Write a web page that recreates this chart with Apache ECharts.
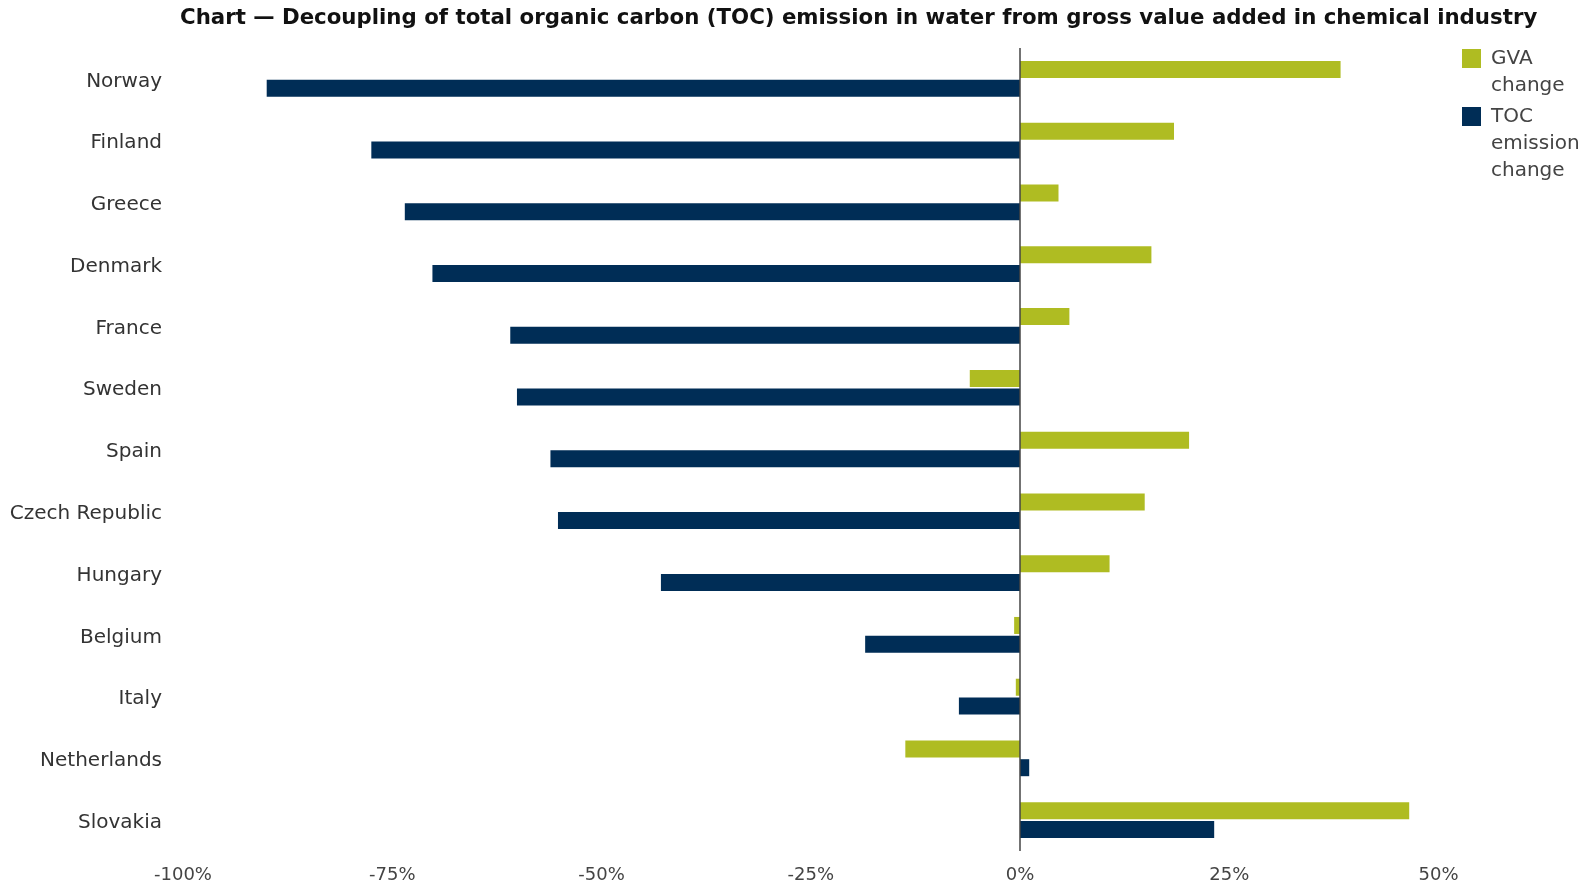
<!DOCTYPE html>
<html>
<head>
<meta charset="utf-8">
<title>Decoupling of TOC emission from GVA in chemical industry</title>
<script src="https://cdn.jsdelivr.net/npm/echarts@6/dist/echarts.min.js"></script>
<style>
  html, body { margin: 0; padding: 0; background: #ffffff; }
  #chart { width: 1580px; height: 884px; }
</style>
</head>
<body>
<div id="chart"></div>
<script>
// Countries, top to bottom
const countries = [
  'Norway', 'Finland', 'Greece', 'Denmark', 'France', 'Sweden', 'Spain',
  'Czech Republic', 'Hungary', 'Belgium', 'Italy', 'Netherlands', 'Slovakia'
];

// Change in gross value added, %
const gvaChange = [38.3, 18.4, 4.6, 15.7, 5.9, -6.0, 20.2, 14.9, 10.7, -0.7, -0.5, -13.7, 46.5];

// Change in total organic carbon emission in water, %
const tocChange = [-90.0, -77.5, -73.5, -70.2, -60.9, -60.1, -56.1, -55.2, -42.9, -18.5, -7.3, 1.1, 23.2];

// Value axis ticks, %
const xTicks = { min: -100, max: 50, step: 25 };

const seriesNames = ['GVA change', 'TOC emission change'];
const colors = ['#afbc22', '#002d56'];

const chart = echarts.init(document.getElementById('chart'), null, { renderer: 'canvas' });

// Legend text wraps over several lines; the leading empty lines keep the
// first line level with the colour box.
const legendText = {
  'GVA change': '\nGVA\nchange',
  'TOC emission change': '\n\nTOC\nemission\nchange'
};

chart.setOption({
  animation: false,
  backgroundColor: '#ffffff',
  color: colors,
  title: {
    text: 'Chart \u2014 Decoupling of total organic carbon (TOC) emission in water from gross value added in chemical industry',
    left: 180,
    top: 8,
    padding: 0,
    textStyle: {
      fontFamily: 'DejaVu Sans',
      fontWeight: 'bold',
      fontSize: 21.3,
      color: '#111111'
    }
  },
  legend: {
    orient: 'vertical',
    left: 1462,
    top: 18,
    padding: 0,
    itemGap: -50,
    itemWidth: 19,
    itemHeight: 19,
    icon: 'rect',
    selectedMode: false,
    formatter: name => legendText[name],
    textStyle: {
      fontFamily: 'DejaVu Sans',
      fontSize: 20,
      lineHeight: 27,
      color: '#444444',
      padding: [0, 0, 0, 5]
    },
    data: seriesNames
  },
  grid: {
    left: 183,
    right: 141.5,
    top: 48,
    bottom: 32,
    containLabel: false
  },
  xAxis: {
    type: 'value',
    min: xTicks.min,
    max: xTicks.max,
    interval: xTicks.step,
    axisLine: { show: false },
    axisTick: { show: false },
    splitLine: { show: false },
    axisLabel: {
      formatter: v => v + '%',
      fontFamily: 'DejaVu Sans',
      fontSize: 18,
      color: '#444444',
      margin: 15
    }
  },
  yAxis: {
    type: 'category',
    data: countries,
    inverse: true,
    axisLine: { show: false },
    axisTick: { show: false },
    axisLabel: {
      margin: 21,
      formatter: v => '{c|' + v + '}',
      rich: {
        c: {
          fontFamily: 'DejaVu Sans',
          fontSize: 20,
          color: '#333333',
          padding: [5, 0, 0, 0]
        }
      }
    }
  },
  series: [
    {
      name: seriesNames[0],
      type: 'bar',
      data: gvaChange,
      barWidth: 17,
      barGap: '10%',
      itemStyle: { color: colors[0] },
      markLine: {
        // zero line of the value axis
        silent: true,
        symbol: 'none',
        label: { show: false },
        lineStyle: { color: '#444444', width: 1.5, type: 'solid' },
        data: [{ xAxis: 0 }]
      }
    },
    {
      name: seriesNames[1],
      type: 'bar',
      data: tocChange,
      barWidth: 17,
      barGap: '10%',
      itemStyle: { color: colors[1] }
    }
  ]
});
</script>
</body>
</html>
